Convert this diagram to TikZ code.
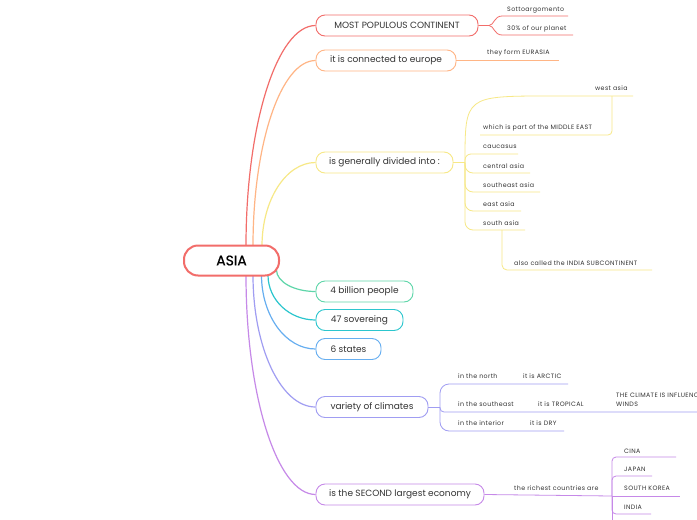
\documentclass[tikz,border=0pt]{standalone}
\usepackage{fontspec}
\usetikzlibrary{calc}
\setmainfont{Poppins}
\newfontfamily\subfont[LetterSpace=6]{Poppins}
\newfontfamily\rootfont[FakeBold=0.6]{Poppins}
\definecolor{cred}{HTML}{F26D6A}
\definecolor{cora}{HTML}{FFB585}
\definecolor{cyel}{HTML}{F7E886}
\definecolor{cgrn}{HTML}{5ED6A9}
\definecolor{ccya}{HTML}{2CC6CE}
\definecolor{cblu}{HTML}{66AEF0}
\definecolor{cpur}{HTML}{A09DF2}
\definecolor{cvio}{HTML}{C689E8}
\definecolor{txt}{HTML}{333333}
\begin{document}
\begin{tikzpicture}[x=1pt,y=-1pt,
  main/.style={draw, fill=white, rounded corners=9pt, minimum height=21pt, inner sep=0pt,
    font=\fontsize{9}{10}\selectfont, text=txt, line width=0.9pt},
  sub/.style={anchor=west, inner sep=0pt, font=\subfont\fontsize{6.3}{9}\selectfont, text=txt},
  link/.style={line width=1.2pt},
  twig/.style={line width=0.8pt},
  arc/.style args={#1 to #2}{insert path={(#1) .. controls ($(#1)!0.552!(#1 |- #2)$) and ($(#2)!0.552!(#1 |- #2)$) .. (#2)}}]
\useasboundingbox (0,0) rectangle (697,520);
\clip (0,0) rectangle (697,520);
\fill[white] (0,0) rectangle (697,520);

% start points of the main branches on the root
\coordinate (r1) at (246,246);
\coordinate (r2) at (253,246);
\coordinate (r3) at (262,246);
\coordinate (r4) at (276.5,270);
\coordinate (r5) at (268,275);
\coordinate (r6) at (261.5,275);
\coordinate (r7) at (253,275);
\coordinate (r8) at (246,275);

\node[main, draw=cred, minimum width=162pt] (n1) at (397,25.5) {MOST POPULOUS CONTINENT};
\node[main, draw=cora, minimum width=140pt] (n2) at (386,60.5) {it is connected to europe};
\node[main, draw=cyel, minimum width=137pt] (n3) at (384.5,162.5) {is generally divided into :};
\node[main, draw=cgrn, minimum width=97pt] (n4) at (364.5,291.5) {4 billion people};
\node[main, draw=ccya, minimum width=87pt] (n5) at (359.5,320) {47 sovereing};
\node[main, draw=cblu, minimum width=65pt] (n6) at (348.5,349) {6 states};
\node[main, draw=cpur, minimum width=112pt] (n7) at (372,407) {variety of climates};
\node[main, draw=cvio, minimum width=168pt] (n8) at (400,494.5) {is the SECOND largest economy};

\draw[link, cred] [arc=r1 to n1.west];
\draw[link, cora] [arc=r2 to n2.west];
\draw[link, cyel] [arc=r3 to n3.west];
\draw[link, cgrn] [arc=r4 to n4.west];
\draw[link, ccya] [arc=r5 to n5.west];
\draw[link, cblu] [arc=r6 to n6.west];
\draw[link, cpur] [arc=r7 to n7.west];
\draw[link, cvio] [arc=r8 to n8.west];

\node[draw=cred, line width=2pt, rounded corners=14pt, minimum width=95pt, minimum height=30pt,
  fill=white, text=black, font=\rootfont\fontsize{14}{16}\selectfont] (root) at (231.5,260.5) {ASIA};

% MOST POPULOUS CONTINENT
\node[sub] (s11) at (507,10) {Sottoargomento};
\node[sub] (s12) at (507,29) {30\% of our planet};
\draw[twig, cred] (n1.east) -- (489,25.5) .. controls (494,25.5) and (494,16) .. (502,16) -- (568,16);
\draw[twig, cred] (489,25.5) .. controls (494,25.5) and (494,35) .. (502,35) -- (573,35);

% connected to europe
\node[sub] (s21) at (487,53) {they form EURASIA};
\draw[twig, cora] (n2.east) -- (559,60.5);

% divided into
\coordinate (f3) at (465,162.5);
\draw[twig, cyel] (n3.east) -- (f3);
\node[sub] (s31) at (595,88) {west asia};
\node[sub] (s32) at (483,128) {which is part of the MIDDLE EAST};
\node[sub] (s33) at (483,147) {caucasus};
\node[sub] (s34) at (483,166) {central asia};
\node[sub] (s35) at (483,185) {southeast asia};
\node[sub] (s36) at (483,204) {east asia};
\node[sub] (s37) at (483,223) {south asia};
\node[sub] (s38) at (514,263) {also called the INDIA SUBCONTINENT};
\draw[twig, cyel] (f3) .. controls (465,96) .. (550,96) -- (633,96);
\draw[twig, cyel, rounded corners=4pt] (612,96) |- (480,135);
\draw[twig, cyel, rounded corners=6pt] (f3) |- (518,154);
\draw[twig, cyel, rounded corners=8pt] (f3) |- (530,173);
\draw[twig, cyel, rounded corners=8pt] (f3) |- (540,192);
\draw[twig, cyel, rounded corners=8pt] (f3) |- (521,211);
\draw[twig, cyel, rounded corners=8pt] (f3) |- (525,230);
\draw[twig, cyel, rounded corners=5pt] (502,230) |- (652,270);

% climates
\coordinate (f7) at (440,407);
\draw[twig, cpur] (n7.east) -- (f7);
\node[sub] (s71) at (458,376) {in the north};
\node[sub] (s72) at (523,376) {it is ARCTIC};
\node[sub] (s73) at (458,404) {in the southeast};
\node[sub] (s74) at (538,404) {it is TROPICAL};
\node[sub, align=left] (s75) at (616,399.5) {THE CLIMATE IS INFLUENCED BY THE MONSOON\\WINDS};
\node[sub] (s76) at (458,423) {in the interior};
\node[sub] (s77) at (530,423) {it is DRY};
\draw[twig, cpur, rounded corners=9pt] (f7) |- (568,384);
\draw[twig, cpur, rounded corners=4pt] (f7) |- (700,412);
\draw[twig, cpur, rounded corners=9pt] (f7) |- (564,431);

% economy
\coordinate (f8) at (612,496);
\draw[twig, cvio] (n8.east) -- (f8);
\node[sub] (s81) at (514,488) {the richest countries are};
\node[sub] (s82) at (624,451) {CINA};
\node[sub] (s83) at (624,469) {JAPAN};
\node[sub] (s84) at (624,488) {SOUTH KOREA};
\node[sub] (s85) at (624,507) {INDIA};
\draw[twig, cvio, rounded corners=4pt] (f8) |- (676,457);
\draw[twig, cvio, rounded corners=4pt] (f8) |- (652,476);
\draw[twig, cvio] (f8) -- (680,496);
\draw[twig, cvio, rounded corners=4pt] (f8) |- (651,514);
\draw[twig, cvio] (f8) -- (612,525);
\end{tikzpicture}
\end{document}
